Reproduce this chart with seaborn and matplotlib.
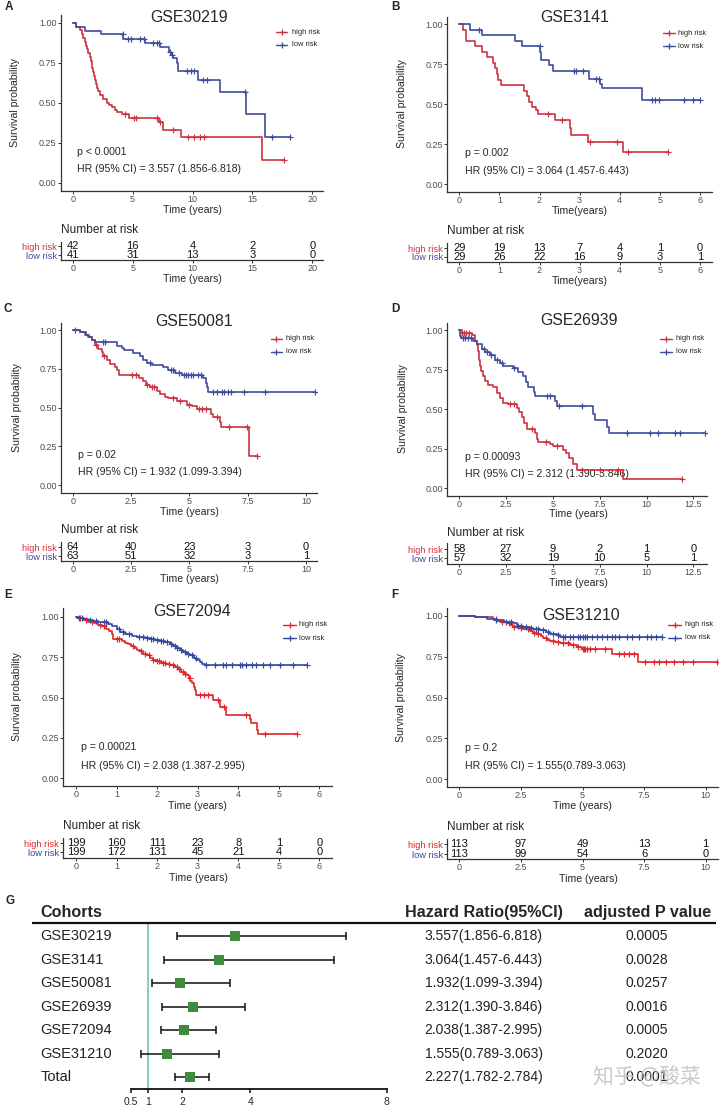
import numpy as np
import matplotlib
matplotlib.use('Agg')
import matplotlib.pyplot as plt
import seaborn as sns
from matplotlib.lines import Line2D

sns.set_theme(style='white')
plt.rcParams['font.family'] = ['Liberation Sans', 'DejaVu Sans']

# ---------------- data ----------------
# GSE30219
A_high_t = [0.28, 0.61, 0.75, 0.89, 1.0, 1.11, 1.22, 1.3, 1.45, 1.52, 1.59, 1.65, 1.72, 1.81, 1.86, 1.92,
            2.0, 2.09, 2.28, 2.56, 2.84, 3.06, 3.31, 3.53, 3.73, 4.09, 4.73, 7.2, 7.5, 9.0, 15.8]
A_high_s = [0.976, 0.952, 0.929, 0.905, 0.881, 0.857, 0.833, 0.810, 0.786, 0.762, 0.738, 0.714, 0.690, 0.667,
            0.643, 0.619, 0.595, 0.571, 0.548, 0.524, 0.500, 0.488, 0.476, 0.452, 0.440, 0.429, 0.405, 0.378,
            0.331, 0.284, 0.142]
A_high_cens = [4.37, 5.1, 5.3, 7.0, 7.3, 8.35, 9.65, 10.1, 10.6, 10.96, 17.6]
A_low_t = [0.3, 1.0, 2.4, 4.2, 6.0, 7.3, 8.0, 8.2, 8.4, 8.7, 8.8, 10.5, 12.3, 14.5, 16.05]
A_low_s = [0.976, 0.951, 0.927, 0.90, 0.875, 0.85, 0.82, 0.80, 0.78, 0.75, 0.70, 0.645, 0.57, 0.43, 0.285]
A_low_cens = [4.17, 4.6, 4.9, 5.6, 5.95, 6.7, 7.0, 7.2, 8.1, 8.3, 9.5, 9.9, 10.1, 10.9, 11.2, 14.4, 16.6, 18.1]
A_risk_t = [0, 5, 10, 15, 20]
A_risk_high = [42, 16, 4, 2, 0]
A_risk_low = [41, 31, 13, 3, 0]

# GSE3141
B_high_t = [0.1, 0.17, 0.39, 0.56, 0.7, 0.85, 0.89, 0.93, 0.97, 1.03, 1.61, 1.68, 1.74, 1.82, 1.9, 1.97,
            2.39, 2.75, 2.78, 3.22, 4.07]
B_high_s = [0.966, 0.897, 0.862, 0.828, 0.793, 0.759, 0.724, 0.690, 0.655, 0.621, 0.586, 0.552, 0.517, 0.483,
            0.466, 0.440, 0.400, 0.355, 0.310, 0.265, 0.199]
B_high_cens = [2.22, 2.55, 3.26, 3.94, 4.2, 5.21]
B_low_t = [0.27, 0.56, 1.39, 1.57, 2.01, 2.04, 2.24, 2.33, 3.24, 3.5, 3.55, 4.56]
B_low_s = [0.966, 0.931, 0.897, 0.862, 0.828, 0.776, 0.745, 0.708, 0.66, 0.63, 0.60, 0.527]
B_low_cens = [0.5, 2.0, 2.87, 2.92, 3.08, 3.41, 3.47, 4.81, 4.87, 4.97, 5.6, 5.83, 6.0]
B_risk_t = [0, 1, 2, 3, 4, 5, 6]
B_risk_high = [29, 19, 13, 7, 4, 1, 0]
B_risk_low = [29, 26, 22, 16, 9, 3, 1]

# GSE50081
C_high_t = [0.31, 0.53, 0.67, 0.81, 0.96, 1.1, 1.24, 1.31, 1.46, 1.6, 1.81, 1.91, 2.0, 2.86, 3.0, 3.13, 3.31,
            3.6, 3.74, 3.96, 4.1, 4.46, 4.89, 5.1, 5.31, 5.91, 6.03, 6.31, 6.37, 7.57]
C_high_s = [0.984, 0.969, 0.953, 0.938, 0.906, 0.875, 0.86, 0.83, 0.81, 0.78, 0.76, 0.74, 0.712, 0.69, 0.67,
            0.645, 0.63, 0.61, 0.59, 0.57, 0.56, 0.54, 0.52, 0.51, 0.49, 0.46, 0.44, 0.405, 0.375, 0.19]
C_high_cens = [1.0, 1.35, 2.53, 2.71, 3.2, 3.4, 3.5, 4.3, 4.6, 5.0, 5.4, 5.55, 5.7, 6.2, 6.71, 7.46, 7.89]
C_low_t = [0.31, 0.57, 0.71, 0.81, 0.96, 1.89, 2.1, 2.2, 2.6, 2.89, 3.03, 3.17, 3.39, 3.89, 4.1, 4.39, 4.67,
           5.6, 5.71, 5.77, 5.81]
C_low_s = [0.984, 0.968, 0.952, 0.937, 0.92, 0.90, 0.887, 0.87, 0.853, 0.83, 0.81, 0.79, 0.775, 0.76, 0.745,
           0.725, 0.71, 0.69, 0.66, 0.63, 0.60]
C_low_cens = [0.1, 1.3, 1.4, 3.3, 4.2, 4.3, 4.55, 4.75, 4.85, 4.95, 5.05, 5.15, 5.35, 5.5, 6.0, 6.2, 6.4, 6.5,
              6.65, 6.8, 7.35, 8.24, 10.4]
C_risk_t = [0, 2.5, 5, 7.5, 10]
C_risk_high = [64, 40, 23, 3, 0]
C_risk_low = [63, 51, 32, 3, 1]

# GSE26939
D_high_t = [0.12, 0.66, 0.84, 0.93, 1.01, 1.04, 1.07, 1.1, 1.14, 1.25, 1.37, 1.55, 1.82, 1.99, 2.17, 2.35,
            2.62, 3.06, 3.2, 3.33, 3.45, 3.6, 4.04, 4.13, 4.22, 4.84, 5.02, 5.56, 5.7, 5.88, 6.05, 6.27, 8.76]
D_high_s = [0.983, 0.966, 0.93, 0.905, 0.87, 0.845, 0.81, 0.775, 0.74, 0.71, 0.68, 0.655, 0.638, 0.60, 0.57,
            0.54, 0.53, 0.51, 0.48, 0.45, 0.41, 0.375, 0.35, 0.31, 0.295, 0.28, 0.265, 0.245, 0.22, 0.19,
            0.155, 0.115, 0.06]
D_high_cens = [0.15, 0.25, 0.35, 0.5, 2.7, 2.9, 3.9, 4.65, 5.2, 6.53, 7.5, 8.5, 11.88]
D_low_t = [0.03, 0.1, 0.75, 0.93, 1.19, 1.37, 1.64, 1.9, 2.17, 2.35, 2.88, 3.15, 3.38, 3.56, 3.69, 3.99, 4.04,
           5.11, 5.24, 7.16, 7.25, 7.87, 8.01]
D_low_s = [0.965, 0.947, 0.933, 0.91, 0.88, 0.86, 0.84, 0.81, 0.79, 0.77, 0.76, 0.735, 0.71, 0.67, 0.64, 0.61,
           0.58, 0.55, 0.52, 0.47, 0.43, 0.39, 0.35]
D_low_cens = [0.2, 0.3, 0.45, 0.6, 1.3, 1.5, 1.7, 2.0, 2.3, 2.9, 4.67, 4.85, 5.35, 6.53, 8.94, 10.19, 10.63,
              11.52, 11.79, 13.1]
D_risk_t = [0, 2.5, 5, 7.5, 10, 12.5]
D_risk_high = [58, 27, 9, 2, 1, 0]
D_risk_low = [57, 32, 19, 10, 5, 1]

# GSE72094
E_high_t = [0.05, 0.2, 0.3, 0.45, 0.55, 0.65, 0.75, 0.82, 0.88, 0.92, 1.13, 1.2, 1.28, 1.36, 1.44, 1.5, 1.58,
            1.66, 1.74, 1.82, 1.9, 1.99, 2.1, 2.23, 2.33, 2.44, 2.52, 2.6, 2.68, 2.73, 2.78, 2.82, 2.85, 2.9,
            2.93, 2.97, 3.39, 3.55, 3.71, 4.28, 4.32, 4.47, 4.5]
E_high_s = [0.99, 0.98, 0.97, 0.96, 0.95, 0.94, 0.925, 0.91, 0.89, 0.86, 0.85, 0.84, 0.83, 0.82, 0.805, 0.795,
            0.785, 0.77, 0.76, 0.745, 0.735, 0.723, 0.715, 0.709, 0.70, 0.689, 0.675, 0.658, 0.645, 0.637,
            0.62, 0.605, 0.59, 0.565, 0.545, 0.514, 0.484, 0.443, 0.391, 0.365, 0.34, 0.30, 0.273]
E_high_cens = [0.1, 0.25, 0.4, 0.6, 0.7, 1.0, 1.05, 1.4, 1.6, 1.7, 1.8, 1.9, 2.0, 2.05, 2.15, 2.2, 2.3, 2.4,
               2.5, 2.55, 2.65, 2.7, 2.8, 3.05, 3.15, 3.25, 3.5, 3.65, 4.2, 4.65, 5.44]
E_low_t = [0.05, 0.18, 0.3, 0.43, 0.55, 0.67, 0.8, 0.9, 1.0, 1.08, 1.2, 1.37, 1.5, 1.58, 1.7, 1.82, 1.95, 2.07,
           2.2, 2.32, 2.4, 2.48, 2.56, 2.65, 2.73, 2.81, 2.9, 2.97, 3.05, 3.1, 3.18]
E_low_s = [0.995, 0.985, 0.98, 0.975, 0.97, 0.965, 0.955, 0.94, 0.924, 0.905, 0.895, 0.883, 0.877, 0.873,
           0.868, 0.863, 0.857, 0.852, 0.842, 0.832, 0.82, 0.807, 0.795, 0.78, 0.77, 0.76, 0.747, 0.733,
           0.72, 0.709, 0.70]
E_low_cens = [0.08, 0.15, 0.35, 0.5, 0.7, 0.75, 1.05, 1.15, 1.3, 1.55, 1.65, 1.75, 1.85, 1.9, 2.0, 2.1, 2.15,
              2.25, 2.35, 2.45, 2.5, 2.6, 2.7, 2.75, 2.85, 2.95, 3.2, 3.43, 3.63, 3.71, 3.84, 4.04, 4.1, 4.2,
              4.35, 4.45, 4.62, 4.78, 5.03, 5.36, 5.69]
E_risk_t = [0, 1, 2, 3, 4, 5, 6]
E_risk_high = [199, 160, 111, 23, 8, 1, 0]
E_risk_low = [199, 172, 131, 45, 21, 4, 0]

# GSE31210
F_high_t = [0.65, 1.38, 1.52, 1.7, 1.92, 2.05, 2.19, 2.4, 2.6, 2.87, 3.0, 3.14, 3.3, 3.41, 3.55, 3.68, 3.9,
            4.09, 4.49, 4.76, 4.97, 6.18, 7.27]
F_high_s = [0.991, 0.982, 0.965, 0.96, 0.953, 0.943, 0.933, 0.925, 0.918, 0.906, 0.896, 0.886, 0.874, 0.862,
            0.853, 0.845, 0.838, 0.831, 0.82, 0.81, 0.796, 0.764, 0.715]
F_high_cens = [1.5, 1.75, 2.0, 2.2, 2.5, 2.8, 3.05, 3.2, 3.5, 3.8, 4.0, 4.2, 4.4, 4.6, 4.8, 5.0, 5.05, 5.1,
               5.2, 5.3, 5.5, 5.9, 6.5, 6.7, 6.9, 7.1, 7.54, 7.9, 8.1, 8.4, 8.7, 9.09, 9.5, 10.45]
F_low_t = [0.64, 1.11, 1.45, 1.8, 2.19, 2.33, 2.6, 2.87, 3.0, 3.27, 3.5, 3.68, 3.95, 4.09]
F_low_s = [0.991, 0.982, 0.973, 0.963, 0.953, 0.94, 0.933, 0.925, 0.918, 0.91, 0.90, 0.89, 0.88, 0.868]
F_low_cens = [1.5, 1.9, 2.1, 2.4, 2.5, 2.7, 2.9, 3.1, 3.2, 3.4, 3.6, 3.8, 4.0, 4.2, 4.3, 4.5, 4.6, 4.8, 4.9,
              5.0, 5.1, 5.2, 5.4, 5.6, 5.8, 6.0, 6.2, 6.3, 6.5, 6.8, 7.0, 7.3, 7.6, 7.8, 8.0, 8.21]
F_risk_t = [0, 2.5, 5, 7.5, 10]
F_risk_high = [113, 97, 49, 13, 1]
F_risk_low = [113, 99, 54, 6, 0]

# forest plot
cohorts = ['GSE30219', 'GSE3141', 'GSE50081', 'GSE26939', 'GSE72094', 'GSE31210', 'Total']
hr = [3.557, 3.064, 1.932, 2.312, 2.038, 1.555, 2.227]
hr_low = [1.856, 1.457, 1.099, 1.390, 1.387, 0.789, 1.782]
hr_high = [6.818, 6.443, 3.394, 3.846, 2.995, 3.063, 2.784]
adj_p = ['0.0005', '0.0028', '0.0257', '0.0016', '0.0005', '0.2020', '0.0001']
forest_ticks = [0.5, 1, 2, 4, 8]

# ---------------- layout helpers (pixels) ----------------
W, H = 720, 1108
fig = plt.figure(figsize=(7.2, 11.08), dpi=100)


def box(l, t, r, b):
    return [l / W, 1 - b / H, (r - l) / W, (b - t) / H]


def fx(x):
    return x / W


def fy(y):
    return 1 - y / H


def ftext(x, y, s, **kw):
    fig.text(fx(x), fy(y), s, **kw)


def km_arrays(t, s, cens):
    t = np.asarray(t)
    s = np.asarray(s)
    end = max(max(cens), t[-1])
    tt = np.r_[0, t, end]
    ss = np.r_[1.0, s, s[-1]]
    idx = np.searchsorted(t, cens, side='right') - 1
    cs = np.where(idx >= 0, s[np.clip(idx, 0, None)], 1.0)
    return tt, ss, np.asarray(cens), cs


def fmt_tick(v):
    return ('%g' % v)


GREY = '#333333'
TICK = '#4d4d4d'

panels = [
    dict(L='A', title='GSE30219', high=(A_high_t, A_high_s, A_high_cens), low=(A_low_t, A_low_s, A_low_cens),
         rt=A_risk_t, rh=A_risk_high, rl=A_risk_low, xticks=[0, 5, 10, 15, 20],
         p='p < 0.0001', hrtxt='HR (95% CI) = 3.557 (1.856-6.818)', xlab='Time (years)',
         colors=('#cc3340', '#3f4d9b'),
         plot=(60.7, 15, 323, 190.7), xmap=(0, 72.7, 20, 312.3), ymap=(22.7, 182.7),
         table=(61, 323, 246.3, 255.3, 260), letter=(5, 7), title_xy=(189.5, 17),
         nar=(61, 230), xl1=(192, 210), xl2=(192, 278.5), yl=(15, 103),
         ann=(77.3, 152.3, 169.3), leg=(276, 287.3, 292, 32.3, 45)),
    dict(L='B', title='GSE3141', high=(B_high_t, B_high_s, B_high_cens), low=(B_low_t, B_low_s, B_low_cens),
         rt=B_risk_t, rh=B_risk_high, rl=B_risk_low, xticks=[0, 1, 2, 3, 4, 5, 6],
         p='p = 0.002', hrtxt='HR (95% CI) = 3.064 (1.457-6.443)', xlab='Time(years)',
         colors=('#cc3340', '#3f4d9b'),
         plot=(447.3, 16.7, 711.7, 191.7), xmap=(0, 459.3, 6, 700), ymap=(24.3, 184.3),
         table=(447.3, 711.7, 248.3, 256.7, 262.3), letter=(391.7, 7), title_xy=(574.7, 17),
         nar=(447.3, 230.7), xl1=(579.7, 211), xl2=(579.7, 281), yl=(401.7, 104),
         ann=(465, 153.3, 170.7), leg=(663.3, 675, 678.3, 33.3, 46)),
    dict(L='C', title='GSE50081', high=(C_high_t, C_high_s, C_high_cens), low=(C_low_t, C_low_s, C_low_cens),
         rt=C_risk_t, rh=C_risk_high, rl=C_risk_low, xticks=[0, 2.5, 5, 7.5, 10],
         p='p = 0.02', hrtxt='HR (95% CI) = 1.932 (1.099-3.394)', xlab='Time (years)',
         colors=('#cc3340', '#3f4d9b'),
         plot=(61, 322.7, 316.7, 492.7), xmap=(0, 72.7, 10, 306), ymap=(330, 485.3),
         table=(61, 316.7, 547.3, 556, 561), letter=(4, 309), title_xy=(194.5, 321.7),
         nar=(61, 530), xl1=(189.7, 511.7), xl2=(189.7, 579.3), yl=(17.3, 407.5),
         ann=(78.3, 455, 471.7), leg=(270.7, 281.7, 286, 339, 351.7)),
    dict(L='D', title='GSE26939', high=(D_high_t, D_high_s, D_high_cens), low=(D_low_t, D_low_s, D_low_cens),
         rt=D_risk_t, rh=D_risk_high, rl=D_risk_low, xticks=[0, 2.5, 5, 7.5, 10, 12.5],
         p='p = 0.00093', hrtxt='HR (95% CI) = 2.312 (1.390-3.846)', xlab='Time (years)',
         colors=('#cc3340', '#3f4d9b'),
         plot=(447.3, 322.7, 706.7, 496), xmap=(0, 459.3, 12.5, 693.3), ymap=(330, 488.3),
         table=(447.3, 706.7, 549.3, 558, 564.3), letter=(391.7, 309), title_xy=(579.3, 320.7),
         nar=(447.3, 533.3), xl1=(578, 514), xl2=(578, 583.3), yl=(402.7, 409),
         ann=(465, 456.7, 474), leg=(660, 671.7, 676, 339, 351.7)),
    dict(L='E', title='GSE72094', high=(E_high_t, E_high_s, E_high_cens), low=(E_low_t, E_low_s, E_low_cens),
         rt=E_risk_t, rh=E_risk_high, rl=E_risk_low, xticks=[0, 1, 2, 3, 4, 5, 6],
         p='p = 0.00021', hrtxt='HR (95% CI) = 2.038 (1.387-2.995)', xlab='Time (years)',
         colors=('#e0262c', '#33489e'),
         plot=(63.3, 607.7, 331.7, 785.7), xmap=(0, 76, 6, 319.3), ymap=(616.7, 778.3),
         table=(63.3, 331.7, 843.3, 852.3, 857.7), letter=(4, 595), title_xy=(192, 611.7),
         nar=(63.3, 826), xl1=(197, 806), xl2=(198, 877.7), yl=(17.3, 696.7),
         ann=(81, 747.3, 765.7), leg=(283.3, 295.7, 299.3, 625, 638.3)),
    dict(L='F', title='GSE31210', high=(F_high_t, F_high_s, F_high_cens), low=(F_low_t, F_low_s, F_low_cens),
         rt=F_risk_t, rh=F_risk_high, rl=F_risk_low, xticks=[0, 2.5, 5, 7.5, 10],
         p='p = 0.2', hrtxt='HR (95% CI) = 1.555(0.789-3.063)', xlab='Time (years)',
         colors=('#e0262c', '#33489e'),
         plot=(447.3, 607.7, 718, 787), xmap=(0, 459.3, 10, 705.7), ymap=(615.7, 779.3),
         table=(447.3, 718, 844.3, 854, 859), letter=(391.7, 595), title_xy=(581, 615),
         nar=(447.3, 827.3), xl1=(582.5, 806), xl2=(588, 879), yl=(400.7, 697.5),
         ann=(465, 747.7, 765.7), leg=(668.3, 680.7, 685, 625, 637.7)),
]


def style_axis(ax):
    sns.despine(ax=ax)
    for sp in ['left', 'bottom']:
        ax.spines[sp].set_color(GREY)
        ax.spines[sp].set_linewidth(0.9)
    ax.tick_params(axis='both', which='both', direction='out', length=2, width=0.7, color=GREY,
                   pad=1, labelsize=6.5, labelcolor=TICK, bottom=True, left=True)
    ax.grid(False)
    ax.set_facecolor('none')


for P in panels:
    l, t, r, b = P['plot']
    v1, p1, v2, p2 = P['xmap']
    k = (p2 - p1) / (v2 - v1)
    xlim = (v1 + (l - p1) / k, v1 + (r - p1) / k)
    y1px, y0px = P['ymap']
    ky = y0px - y1px
    ylim = (-(b - y0px) / ky, 1 + (y1px - t) / ky)

    ax = fig.add_axes(box(l, t, r, b))
    red, blue = P['colors']
    for (ct, cs_, cc), col in [(P['high'], red), (P['low'], blue)]:
        tt, ss, cx, cy = km_arrays(ct, cs_, cc)
        sns.lineplot(x=tt, y=ss, drawstyle='steps-post', color=col, lw=1.2, ax=ax,
                     estimator=None, sort=False, errorbar=None, zorder=3)
        sns.scatterplot(x=cx, y=cy, marker='+', s=20, color=col, linewidth=0.85, ax=ax, zorder=4)
    ax.set_xlim(*xlim)
    ax.set_ylim(*ylim)
    ax.set_xticks(P['xticks'])
    ax.set_xticklabels([fmt_tick(v) for v in P['xticks']])
    ax.set_yticks([0, 0.25, 0.5, 0.75, 1.0])
    ax.set_yticklabels(['0.00', '0.25', '0.50', '0.75', '1.00'])
    ax.set_xlabel('')
    ax.set_ylabel('')
    style_axis(ax)

    # annotations behind the curves
    ax.text(fx(P['ann'][0]), fy(P['ann'][1]), P['p'], transform=fig.transFigure, fontsize=7.6,
            va='center', ha='left', zorder=1)
    ax.text(fx(P['ann'][0]), fy(P['ann'][2]), P['hrtxt'], transform=fig.transFigure, fontsize=7.6,
            va='center', ha='left', zorder=1)

    # legend
    x0, x1, xt, yh, yl_ = P['leg']
    for yy, col, lab in [(yh, red, 'high risk'), (yl_, blue, 'low risk')]:
        fig.add_artist(Line2D([fx(x0), fx(x1)], [fy(yy), fy(yy)], color=col, lw=1.0))
        fig.add_artist(Line2D([fx((x0 + x1) / 2)], [fy(yy)], color=col, marker='+', ms=4, mew=0.9))
        ftext(xt, yy, lab, fontsize=5.4, va='center', ha='left', color='#222222')

    ftext(P['title_xy'][0], P['title_xy'][1], P['title'], fontsize=11.4, ha='center', va='center')
    ftext(P['letter'][0], P['letter'][1], P['L'], fontsize=8.5, fontweight='bold', ha='left', va='center')
    ftext(P['xl1'][0], P['xl1'][1], P['xlab'], fontsize=7.6, ha='center', va='center')
    ftext(P['yl'][0], P['yl'][1], 'Survival probability', fontsize=7.6, ha='center', va='center',
          rotation=90)

    # number at risk table
    tl, tr, rh_px, rl_px, tb = P['table']
    d = rl_px - rh_px
    pad = tb - rl_px
    tax = fig.add_axes(box(tl, rh_px - pad, tr, tb))
    for row, vals in [(1, P['rh']), (0, P['rl'])]:
        for tv, n in zip(P['rt'], vals):
            tax.text(tv, row, str(n), ha='center', va='center', fontsize=8, color='#111111')
    tax.set_xlim(*xlim)
    tax.set_ylim(-pad / d, 1 + pad / d)
    tax.set_xticks(P['xticks'])
    tax.set_xticklabels([fmt_tick(v) for v in P['xticks']])
    tax.set_yticks([1, 0])
    tax.set_yticklabels(['high risk', 'low risk'])
    style_axis(tax)
    for lab, col in zip(tax.get_yticklabels(), [red, blue]):
        lab.set_color(col)
        lab.set_fontsize(6.7)
    ftext(P['nar'][0], P['nar'][1], 'Number at risk', fontsize=8.6, ha='left', va='center')
    ftext(P['xl2'][0], P['xl2'][1], P['xlab'], fontsize=7.6, ha='center', va='center')

# ---------------- forest plot (G) ----------------
X1PX, KX = 148.3, (386.7 - 148.3) / 7.0
X0PX = X1PX - KX
ROW0, DROW = 936.0, 23.55


def gx(px):
    return (px - X0PX) / KX


def gy(py):
    return (py - ROW0) / DROW


gl, gt, gr, gb = 32, 900, 716, 1089.3
gax = fig.add_axes(box(gl, gt, gr, gb))
rows = np.arange(len(cohorts))
gax.vlines(1, gy(923.3), gy(gb), color='#7ccaa6', lw=1.3, zorder=1)
gax.errorbar(hr, rows, xerr=[np.array(hr) - np.array(hr_low), np.array(hr_high) - np.array(hr)],
             fmt='none', ecolor='#111111', elinewidth=1.1, capsize=2.9, capthick=1.1, zorder=2)
sns.scatterplot(x=hr, y=rows, marker='s', s=62, color='#3d8b3d', edgecolor='#3d8b3d', linewidth=0,
                ax=gax, zorder=3)
gax.axhline(gy(923.3), color='#111111', lw=1.6)
gax.set_xlim(gx(gl), gx(gr))
gax.set_ylim(gy(gb), gy(gt))

gax.text(gx(40.7), gy(912.7), 'Cohorts', fontsize=11.6, fontweight='bold', ha='left', va='center')
gax.text(gx(484), gy(912.7), 'Hazard Ratio(95%CI)', fontsize=11.6, fontweight='bold', ha='center',
         va='center')
gax.text(gx(647.2), gy(912.7), 'adjusted P value', fontsize=11.6, fontweight='bold', ha='center',
         va='center')
for i, c in enumerate(cohorts):
    gax.text(gx(40.7), i, c, fontsize=10.5, ha='left', va='center', color='#222222')
    gax.text(gx(483.7), i, '%.3f(%.3f-%.3f)' % (hr[i], hr_low[i], hr_high[i]), fontsize=10,
             ha='center', va='center', color='#222222')
    gax.text(gx(646.7), i, adj_p[i], fontsize=10, ha='center', va='center', color='#222222')

sns.despine(ax=gax, left=True)
gax.spines['bottom'].set_bounds(0.5, 8)
gax.spines['bottom'].set_color('#111111')
gax.spines['bottom'].set_linewidth(1.3)
gax.set_xticks(forest_ticks)
gax.set_xticklabels([fmt_tick(v) for v in forest_ticks])
gax.set_yticks([])
gax.set_xlabel('')
gax.set_ylabel('')
gax.tick_params(axis='x', direction='out', length=3, width=1.1, color='#111111', labelsize=7.5, pad=2.5,
                bottom=True)
gax.grid(False)
gax.set_facecolor('none')
ftext(5, 900.7, 'G', fontsize=8.5, fontweight='bold', ha='left', va='center')

# watermark on the image (it sits over the last p value in the reference)
fig.text(fx(646.5), fy(1077), '知乎 @酸菜', fontsize=15, color='#c4c4c4', alpha=0.9, ha='center',
         va='center', family=['Noto Sans CJK SC', 'DejaVu Sans'])

fig.savefig('out.png', dpi=100)
